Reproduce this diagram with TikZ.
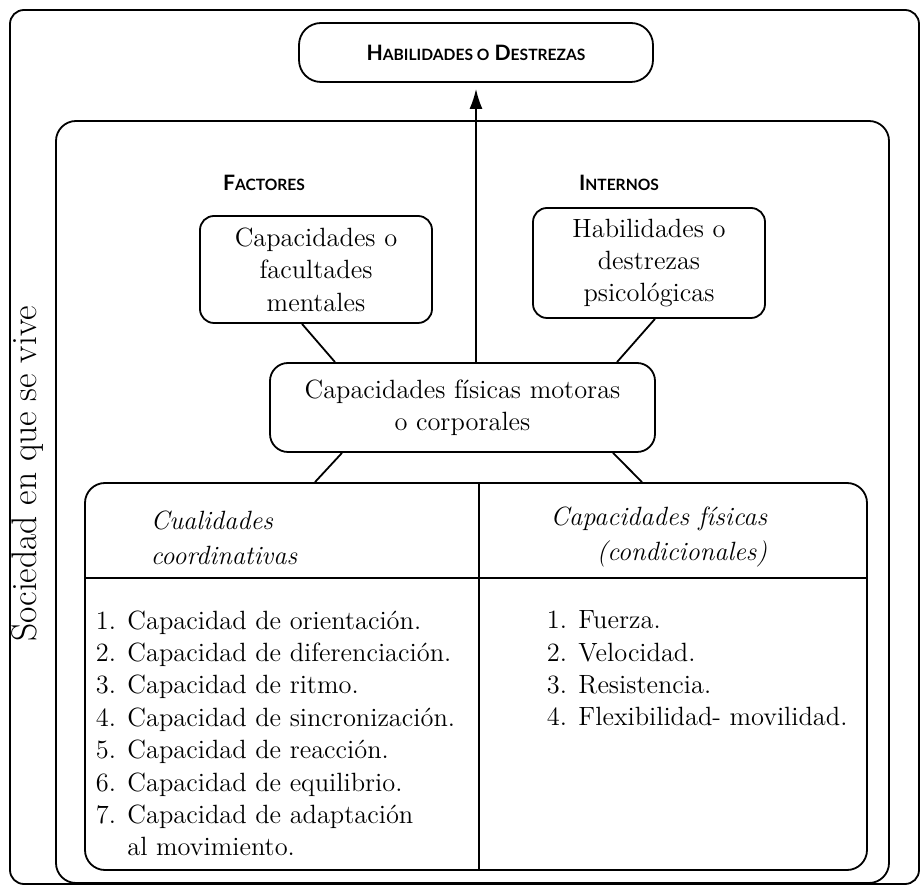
\documentclass[tikz,border=0pt]{standalone}
\usepackage{fontspec}
\newfontfamily\headfont{Lato}
\usetikzlibrary{arrows.meta,calc}
\newcommand{\smc}[1]{{\fontsize{7.8}{9}\selectfont #1}}
\begin{document}
\begin{tikzpicture}[x=0.5pt, y=-0.5pt, line width=0.9pt, font=\fontsize{13.2}{16.2}\selectfont]
            \tikzstyle{frame}=[draw, inner sep=0pt]
            \tikzstyle{box}=[draw, rounded corners=7pt, inner sep=0pt, align=center]
            \tikzstyle{head}=[inner sep=0pt, font=\headfont\bfseries\fontsize{10.6}{12}\selectfont]
            \tikzstyle{label}=[inner sep=0pt, anchor=west, align=left]
            \useasboundingbox (0,0) rectangle (921,886);
            \node[frame, rounded corners=7pt, minimum width=454.5pt, minimum height=437pt] (outer) at (464.5,447) {};
            \node[frame, rounded corners=10pt, minimum width=416.5pt, minimum height=381pt] (inner) at (472.5,502) {};
            \node[rotate=90, inner sep=0pt, font=\fontsize{17.8}{20}\selectfont] (sociedad) at (28,474) {Sociedad en que se vive};
            \node[box, rounded corners=11pt, minimum width=177pt, minimum height=29.5pt, head] (top) at (476,52.5) {H\smc{ABILIDADES O} D\smc{ESTREZAS}};
            \node[head] (factores) at (264,183) {F\smc{ACTORES}};
            \node[head] (internos) at (619,183) {I\smc{NTERNOS}};
            \node[box, minimum width=116pt, minimum height=53.5pt] (mental) at (316,269.5) {Capacidades o\\facultades\\mentales};
            \node[box, minimum width=116pt, minimum height=55pt] (psico) at (649,263) {Habilidades o\\destrezas\\psicológicas};
            \node[box, rounded corners=9pt, minimum width=192.5pt, minimum height=44.5pt] (motor) at (462.5,407.5) {Capacidades físicas motoras\\o corporales};
            \node[frame, rounded corners=10pt, minimum width=391pt, minimum height=193.5pt] (table) at (476,676.5) {};
            \coordinate (div) at (479,578);
            \draw (div |- table.north) -- (div |- table.south);
            \draw (div -| table.west) -- (div -| table.east);
            \node[label, font=\fontsize{13.2}{17.5}\selectfont\itshape] (coordinativas) at (150,537.5) {Cualidades\\coordinativas};
            \node[label, anchor=east, align=right, font=\fontsize{13.2}{17.5}\selectfont\itshape] (condicionales) at (768,537.5) {Capacidades físicas\\(condicionales)};
            \node[label] (listcoord) at (95,733.5) {1. Capacidad de orientación.\\2. Capacidad de diferenciación.\\3. Capacidad de ritmo.\\4. Capacidad de sincronización.\\5. Capacidad de reacción.\\6. Capacidad de equilibrio.\\7. Capacidad de adaptación\\\phantom{7. }al movimiento.};
            \node[label] (listcond) at (546,668.5) {1. Fuerza.\\2. Velocidad.\\3. Resistencia.\\4. Flexibilidad- movilidad.};
            \path [-{Latex[length=10pt,width=6.5pt]}, shorten >=3pt] (motor.north -| top.south) edge[] (top.south);
            \path ($(mental.south)+(-14,0)$) edge[] ($(motor.north)+(-127.5,0)$);
            \path ($(psico.south)+(6,0)$) edge[] ($(motor.north)+(154.5,0)$);
            \path ($(motor.south)+(-120.5,0)$) edge[] ($(table.north)+(-161,0)$);
            \path ($(motor.south)+(150.5,0)$) edge[] ($(table.north)+(166,0)$);
        \end{tikzpicture}
\end{document}
